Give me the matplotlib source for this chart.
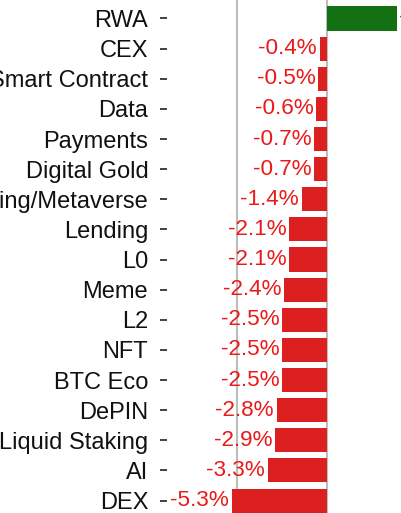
import matplotlib
matplotlib.use('Agg')
from matplotlib import pyplot as plt

categories = ['RWA', 'CEX', 'Smart Contract', 'Data', 'Payments', 'Digital Gold',
              'Gaming/Metaverse', 'Lending', 'L0', 'Meme', 'L2', 'NFT', 'BTC Eco',
              'DePIN', 'Liquid Staking', 'AI', 'DEX']
changes = [3.9, -0.4, -0.5, -0.6, -0.7, -0.7, -1.4, -2.1, -2.1, -2.4, -2.5, -2.5,
           -2.5, -2.8, -2.9, -3.3, -5.3]

RED = '#dc2020'
RED_TEXT = '#ea1a1a'
GREEN = '#137113'

plt.rcParams['font.family'] = ['Liberation Sans', 'DejaVu Sans']

fig = plt.figure(figsize=(4.01, 5.13), dpi=100)
# axes runs past the figure edges, the reference is a crop of a wider chart
ax = fig.add_axes([167 / 401, -0.011, 268 / 401, 1.0102])

ys = list(range(len(categories)))
colors = [GREEN if v > 0 else RED for v in changes]
ax.barh(ys, changes, height=0.8, color=colors, zorder=2)

for y, v in zip(ys, changes):
    if v < 0:
        ax.annotate(f'{v:.1f}%', (v, y), xytext=(-2, 0), textcoords='offset points',
                    ha='right', va='center', color=RED_TEXT, fontsize=16.2, zorder=3)
    else:
        ax.annotate(f'+{v:.1f}%', (v, y), xytext=(1, 0), textcoords='offset points',
                    ha='left', va='center', color=GREEN, fontsize=16.2, zorder=3)

for gx in [-5, 0]:
    ax.axvline(gx, color='#bdbdbd', linewidth=1.5, zorder=1)

ax.set_xlim(-8.9, 6)
ax.set_ylim(16.6, -0.6)
ax.set_yticks(ys)
ax.set_yticklabels(categories, fontsize=17, color='#111111')
ax.tick_params(axis='y', length=5, width=1.3, color='#333333', pad=8.5)
ax.set_xticks([])
for s in ax.spines.values():
    s.set_visible(False)

fig.savefig('out.png', dpi=100)
